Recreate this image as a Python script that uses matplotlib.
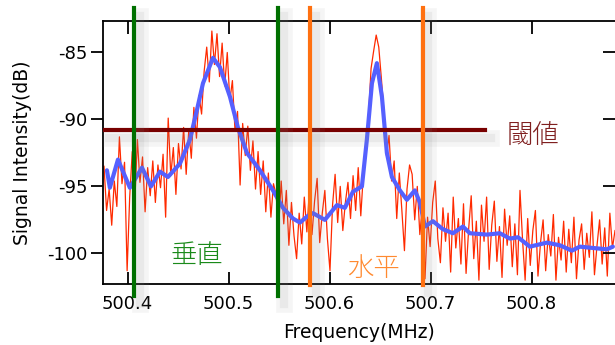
import numpy as np
import matplotlib
matplotlib.use("Agg")
import matplotlib.pyplot as plt
import matplotlib.patheffects as pe

plt.rcParams['font.family'] = ['DejaVu Sans', 'Noto Sans CJK JP']

# raw spectrum (evenly sampled between f_start and f_stop)
f_start, f_stop = 500.3766, 500.8826
raw_db = [
    -93.5, -96.8, -95.2, -97.9, -94.6, -96.5, -91.3, -94.8, -93.2, -101.3,
    -95.8, -92.4, -96.1, -91.5, -94.7, -92.8, -96.9, -93.6, -95.7, -93.1,
    -96.2, -93.4, -95.1, -92.6, -97.3, -89.9, -94.2, -92.1, -95.6, -91.8,
    -93.7, -90.6, -94.1, -90.8, -92.9, -89.1, -91.4, -88.2, -89.6, -86.4,
    -84.6, -87.2, -83.4, -85.9, -83.6, -86.8, -84.3, -87.5, -85.0, -88.6,
    -87.1, -90.8, -89.4, -94.9, -90.3, -92.7, -90.5, -93.8, -91.6, -95.2,
    -92.4, -95.6, -93.1, -96.9, -94.0, -97.3, -94.8, -95.6, -98.1, -94.6,
    -97.8, -95.3, -99.4, -96.2, -98.7, -100.4, -97.0, -99.3, -95.8, -98.4,
    -95.2, -98.6, -96.1, -94.4, -99.2, -97.0, -95.3, -98.9, -101.3, -96.4,
    -94.1, -97.7, -95.0, -98.3, -96.2, -94.7, -97.4, -94.2, -96.8, -93.6,
    -97.2, -94.1, -92.5, -89.8, -86.2, -84.9, -83.7, -84.6, -86.9, -89.4,
    -92.7, -91.2, -94.6, -93.1, -97.4, -94.0, -96.8, -99.8, -95.2, -93.4,
    -94.1, -97.5, -95.0, -98.6, -96.4, -101.9, -97.3, -99.5, -96.2, -94.6,
    -98.9, -100.7, -96.6, -99.1, -97.0, -101.4, -95.8, -99.6, -97.4, -100.8,
    -96.3, -101.5, -98.2, -95.7, -100.4, -97.6, -102.0, -96.4, -99.1, -95.8,
    -101.2, -97.9, -96.1, -100.6, -98.0, -101.8, -96.7, -99.4, -97.2, -101.0,
    -97.8, -101.6, -95.3, -99.0, -102.0, -97.4, -100.9, -98.3, -96.8, -101.7,
    -99.2, -97.5, -101.3, -98.6, -100.2, -97.1, -102.0, -98.8, -100.5, -97.6,
    -101.4, -98.2, -100.7, -97.3, -101.9, -99.0, -97.8, -101.2, -98.5, -100.3,
    -96.9, -101.6, -99.4, -97.5, -100.8, -98.1, -101.7, -97.0, -99.6, -98.3,
]

# smoothed spectrum
smooth_f = [
    500.3795, 500.3824, 500.3904, 500.4022, 500.4142, 500.4231, 500.4320,
    500.4399, 500.4518, 500.4617, 500.4686, 500.4746, 500.4845, 500.4914,
    500.5013, 500.5092, 500.5181, 500.5310, 500.5439, 500.5538, 500.5637,
    500.5706, 500.5785, 500.5835, 500.5953, 500.6072, 500.6151, 500.6231,
    500.6320, 500.6369, 500.6419, 500.6468, 500.6518, 500.6567, 500.6617,
    500.6696, 500.6765, 500.6844, 500.6894, 500.6944, 500.7023, 500.7122,
    500.7221, 500.7320, 500.7389, 500.7557, 500.7686, 500.7785, 500.7865,
    500.7983, 500.8152, 500.8280, 500.8399, 500.8478, 500.8607, 500.8746,
    500.8805,
]
smooth_db = [
    -93.8, -95.1, -93.0, -95.1, -93.6, -95.0, -93.9, -94.3, -93.3, -91.5,
    -89.3, -87.3, -85.4, -86.1, -88.3, -90.6, -92.5, -93.8, -95.3, -96.6,
    -97.4, -97.7, -97.2, -97.0, -97.5, -96.4, -96.6, -95.4, -95.0, -91.5,
    -87.3, -85.8, -88.3, -92.5, -94.3, -95.3, -96.0, -95.3, -96.2, -98.0,
    -97.6, -98.2, -98.5, -98.0, -98.5, -98.6, -98.5, -98.9, -98.8, -99.5,
    -99.2, -99.4, -99.8, -99.5, -99.6, -99.7, -99.5,
]

threshold_db = -90.8
threshold_end = 500.754
vertical_f = [500.4066, 500.549]
horizontal_f = [500.581, 500.692]

xticks = [500.4, 500.5, 500.6, 500.7, 500.8]
yticks = [-85, -90, -95, -100]

raw_f = np.linspace(f_start, f_stop, len(raw_db))

fig = plt.figure(figsize=(6.15, 3.45), dpi=100)
ax = fig.add_axes([103 / 615, 61 / 345, 512 / 615, 263 / 345])
xlim = (500.3756, 500.8826)
ylim = (-102.29, -82.65)
ax.set_xlim(xlim)
ax.set_ylim(ylim)

ax.plot(raw_f, raw_db, color='#ff2a00', lw=0.9, zorder=2)
ax.plot(smooth_f, smooth_db, color='#5560ff', lw=3.0, zorder=3,
        solid_joinstyle='round', solid_capstyle='round')

shadow = [pe.SimpleLineShadow(offset=(4, -6), shadow_color='#888888', alpha=0.08, linewidth=12),
          pe.SimpleLineShadow(offset=(4, -6), shadow_color='#888888', alpha=0.10, linewidth=6),
          pe.Normal()]

xfrac = (threshold_end - xlim[0]) / (xlim[1] - xlim[0])
ax.axhline(threshold_db, xmin=0, xmax=xfrac, color='#780000', lw=3,
           zorder=4, path_effects=shadow)

for f in vertical_f:
    ax.axvline(f, ymin=-0.046, ymax=1.049, color='#007000', lw=3, zorder=5,
               clip_on=False, path_effects=shadow)
for f in horizontal_f:
    ax.axvline(f, ymin=-0.004, ymax=1.049, color='#ff7010', lw=3, zorder=5,
               clip_on=False, path_effects=shadow)

cjk = ['Noto Sans CJK JP', 'DejaVu Sans']
ax.text(500.4688, -100.13, '垂直', color='#1a8a1a', fontsize=19,
        ha='center', va='center', family=cjk, fontweight='light')
ax.text(500.6435, -101.1, '水平', color='#ff8a30', fontsize=19,
        ha='center', va='center', family=cjk, fontweight='light')
ax.text(500.8012, -91.17, '閾値', color='#802020', fontsize=19,
        ha='center', va='center', family=cjk, fontweight='light')

ax.set_xticks(xticks)
ax.set_yticks(yticks)
ax.set_xticklabels([f'{t:.1f}' for t in xticks])
ax.set_yticklabels([str(t) for t in yticks])
ax.tick_params(axis='x', which='both', direction='in', length=9, width=1.3,
               top=True, labelsize=13, pad=8)
ax.tick_params(axis='y', which='both', direction='out', length=9, width=1.3,
               labelsize=13, pad=2, right=False)
for s in ['left', 'bottom', 'top']:
    ax.spines[s].set_linewidth(1.3)
ax.spines['right'].set_visible(False)

# right-hand ticks point inwards
ax2 = ax.twinx()
ax2.set_ylim(ylim)
ax2.set_yticks(yticks)
ax2.tick_params(axis='y', direction='in', length=9, width=1.3, labelright=False)
for s in ax2.spines.values():
    s.set_visible(False)

ax.set_xlabel('Frequency(MHz)', fontsize=13.5, labelpad=7)
ax.set_ylabel('Signal Intensity(dB)', fontsize=13.5, labelpad=11)

fig.savefig('out.png', dpi=100)
